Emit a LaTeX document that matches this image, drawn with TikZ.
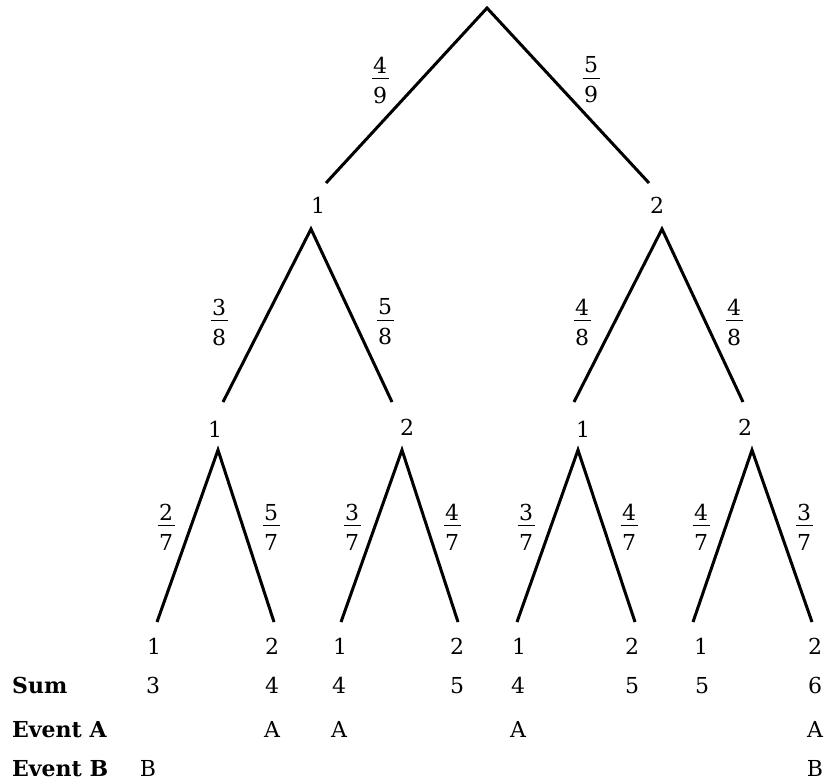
\documentclass[tikz,border=0pt]{standalone}
\usepackage{fontspec}
\setmainfont{DejaVu Serif}
\newcommand\fracx[2]{\vbox{\offinterlineskip\halign{\hfil\kern1.5pt##\kern1.5pt\hfil\cr\rule[-5pt]{0pt}{19pt}#1\cr\noalign{\hrule height 1pt}\rule{0pt}{24pt}#2\cr}}}
\tikzset{
  x=1pt, y=-1pt,
  br/.style={line width=3pt, line cap=butt, line join=miter},
  lbl/.style={inner sep=0pt, anchor=base, font=\fontsize{22}{26}\selectfont},
  rowlbl/.style={inner sep=0pt, anchor=base west, font=\fontsize{22}{26}\selectfont\bfseries},
  fr/.style={inner sep=0pt, anchor=center, font=\fontsize{22}{26}\selectfont}
}
\begin{document}
\begin{tikzpicture}
\useasboundingbox (0,0) rectangle (827,782);
% line end points
\coordinate (r) at (487,8);
\coordinate (e1) at (326,183);
\coordinate (e2) at (649,183);
\coordinate (a1) at (311,229);
\coordinate (a2) at (662,229);
\coordinate (e11) at (223,402);
\coordinate (e12) at (392,402);
\coordinate (e21) at (574,402);
\coordinate (e22) at (743,402);
\coordinate (a11) at (218,450);
\coordinate (a12) at (402,450);
\coordinate (a21) at (578,450);
\coordinate (a22) at (752,450);
\coordinate (l1) at (157,622);
\coordinate (l2) at (274,622);
\coordinate (l3) at (341,622);
\coordinate (l4) at (458,622);
\coordinate (l5) at (517,622);
\coordinate (l6) at (635,622);
\coordinate (l7) at (693,622);
\coordinate (l8) at (812,622);
% branches
\draw[br] (e1) -- (r) -- (e2);
\draw[br] (e11) -- (a1) -- (e12);
\draw[br] (e21) -- (a2) -- (e22);
\draw[br] (l1) -- (a11) -- (l2);
\draw[br] (l3) -- (a12) -- (l4);
\draw[br] (l5) -- (a21) -- (l6);
\draw[br] (l7) -- (a22) -- (l8);
% node labels
\node[lbl] (n1) at (318,213) {1};
\node[lbl] (n2) at (657,213) {2};
\node[lbl] (n11) at (215,437) {1};
\node[lbl] (n12) at (407,435) {2};
\node[lbl] (n21) at (583,437) {1};
\node[lbl] (n22) at (745,435) {2};
\node[lbl] (m1) at (154,654) {1};
\node[lbl] (m2) at (272,654) {2};
\node[lbl] (m3) at (340,654) {1};
\node[lbl] (m4) at (457,654) {2};
\node[lbl] (m5) at (519,654) {1};
\node[lbl] (m6) at (632,654) {2};
\node[lbl] (m7) at (701,654) {1};
\node[lbl] (m8) at (815,654) {2};
% probabilities
\node[fr] (p1) at (380,80) {\fracx{4}{9}};
\node[fr] (p2) at (591,80) {\fracx{5}{9}};
\node[fr] (p11) at (219,322) {\fracx{3}{8}};
\node[fr] (p12) at (385,322) {\fracx{5}{8}};
\node[fr] (p21) at (582,322) {\fracx{4}{8}};
\node[fr] (p22) at (734,322) {\fracx{4}{8}};
\node[fr] (q1) at (166,527) {\fracx{2}{7}};
\node[fr] (q2) at (271,527) {\fracx{5}{7}};
\node[fr] (q3) at (352,527) {\fracx{3}{7}};
\node[fr] (q4) at (452,527) {\fracx{4}{7}};
\node[fr] (q5) at (526,527) {\fracx{3}{7}};
\node[fr] (q6) at (629,527) {\fracx{4}{7}};
\node[fr] (q7) at (701,527) {\fracx{4}{7}};
\node[fr] (q8) at (804,527) {\fracx{3}{7}};
% rows
\node[rowlbl] (sum) at (12,693) {Sum};
\node[rowlbl] (ea) at (12,737) {Event A};
\node[rowlbl] (eb) at (12,776) {Event B};
\node[lbl] (s1) at (153,693) {3};
\node[lbl] (s2) at (272,693) {4};
\node[lbl] (s3) at (339,693) {4};
\node[lbl] (s4) at (457,693) {5};
\node[lbl] (s5) at (518,693) {4};
\node[lbl] (s6) at (632,693) {5};
\node[lbl] (s7) at (702,693) {5};
\node[lbl] (s8) at (815,693) {6};
\node[lbl] (A1) at (272,737) {A};
\node[lbl] (A2) at (339,737) {A};
\node[lbl] (A3) at (518,737) {A};
\node[lbl] (A4) at (815,737) {A};
\node[lbl] (B1) at (148,776) {B};
\node[lbl] (B2) at (815,776) {B};
\end{tikzpicture}
\end{document}
